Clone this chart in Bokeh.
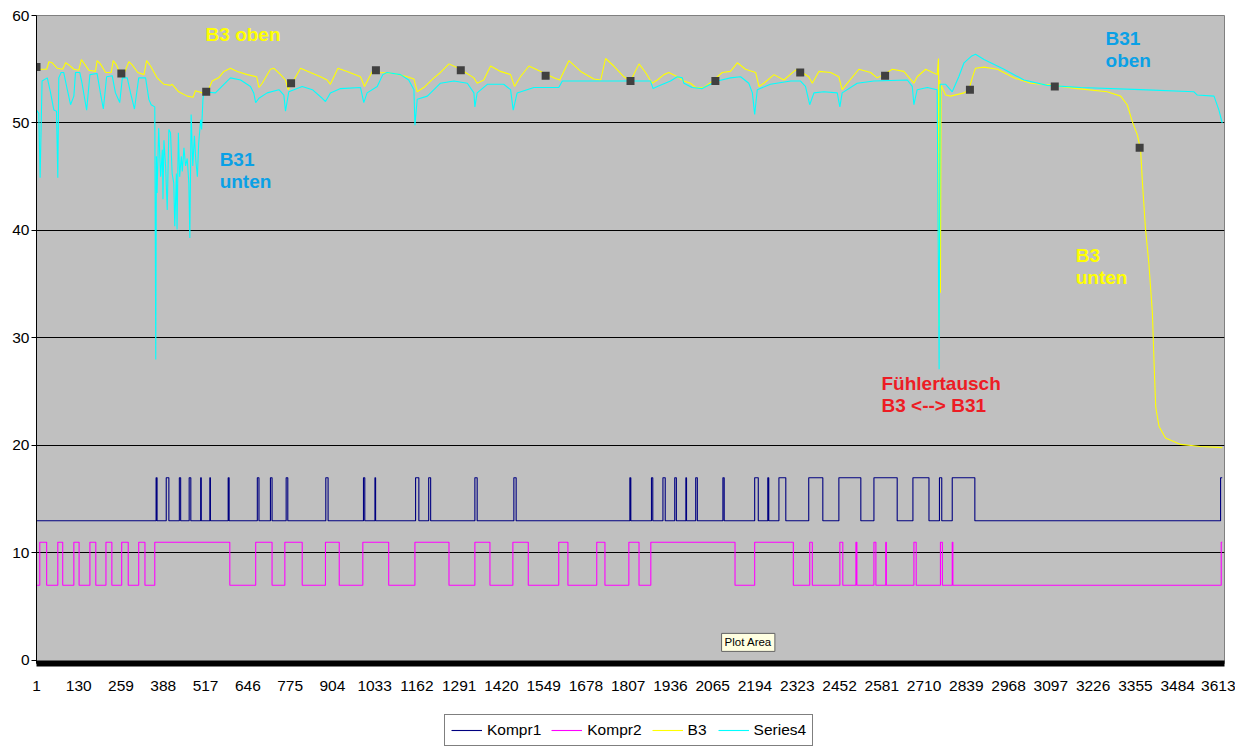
from bokeh.plotting import figure
from bokeh.layouts import column
from bokeh.models import Range1d, FixedTicker, Legend, LegendItem, Label
from bokeh.embed import file_html
from bokeh.resources import INLINE

# ---------------- data ----------------
x_ticks = [1, 130, 259, 388, 517, 646, 775, 904, 1033, 1162, 1291, 1420, 1549, 1678,
           1807, 1936, 2065, 2194, 2323, 2452, 2581, 2710, 2839, 2968, 3097, 3226,
           3355, 3484, 3613]
y_ticks = [0, 10, 20, 30, 40, 50, 60]
last_index = 3620

# Kompr1: 13 = off, 17 = on ; switch-on / switch-off sample numbers
kompr1_low, kompr1_high = 13, 17
kompr1_on = [366, 397, 437, 467, 502, 530, 586, 675, 715, 763, 884, 999, 1034, 1158,
             1198, 1339, 1458, 1812, 1878, 1913, 1949, 1983, 2013, 2096, 2193, 2233,
             2267, 2358, 2450, 2557, 2676, 2757, 2796, 3615]
kompr1_off = [369, 405, 441, 472, 504, 532, 589, 680, 720, 768, 891, 1003, 1036, 1168,
              1204, 1346, 1465, 1815, 1882, 1920, 1954, 1985, 2018, 2100, 2204, 2236,
              2288, 2401, 2517, 2628, 2725, 2764, 2865, 3620]

# Kompr2: 7 = off, 11 = on
kompr2_low, kompr2_high = 7, 11
kompr2_on = [11, 66, 115, 164, 213, 261, 313, 362, 670, 759, 883, 997, 1156, 1339,
             1455, 1595, 1711, 1809, 1876, 2193, 2361, 2453, 2502, 2557, 2593, 2679,
             2760, 2796, 3617]
kompr2_off = [32, 81, 131, 182, 231, 281, 332, 591, 720, 812, 925, 1076, 1260, 1385,
              1502, 1623, 1736, 1840, 2133, 2311, 2369, 2462, 2505, 2563, 2595, 2686,
              2766, 2798, 3620]

b3_idx = [1, 32, 39, 49, 64, 81, 90, 100, 115, 130,
          138, 145, 161, 181, 186, 196, 212, 229, 235, 245,
          252, 267, 283, 293, 310, 329, 337, 349, 369, 390,
          410, 415, 435, 461, 479, 486, 507, 522, 537, 557,
          573, 593, 614, 644, 673, 680, 690, 715, 725, 746,
          761, 769, 781, 807, 837, 868, 888, 898, 921, 949,
          990, 1002, 1026, 1051, 1092, 1133, 1153, 1163, 1183, 1214,
          1234, 1260, 1295, 1336, 1346, 1366, 1387, 1417, 1448, 1460,
          1478, 1504, 1540, 1580, 1598, 1626, 1662, 1702, 1723, 1738,
          1763, 1794, 1814, 1840, 1860, 1880, 1896, 1916, 1931, 1957,
          1977, 1997, 2013, 2038, 2064, 2094, 2119, 2140, 2165, 2196,
          2206, 2221, 2252, 2282, 2313, 2323, 2358, 2369, 2389, 2425,
          2450, 2460, 2481, 2511, 2547, 2567, 2587, 2613, 2648, 2679,
          2689, 2715, 2750, 2754, 2756, 2758, 2760, 2762, 2776, 2791,
          2832, 2847, 2857, 2867, 2893, 2934, 2984, 3035, 3106, 3178,
          3269, 3310, 3330, 3346, 3361, 3371, 3376, 3386, 3396, 3407,
          3412, 3417, 3427, 3447, 3493, 3554, 3620]
b3_val = [55.0, 55.0, 55.7, 55.6, 55.1, 55.0, 55.6, 55.4, 55.0, 54.9,
          55.9, 55.6, 54.9, 54.8, 55.8, 55.5, 54.7, 54.7, 55.8, 55.4,
          54.9, 54.5, 55.7, 55.4, 54.7, 54.5, 55.8, 55.3, 54.2, 53.6,
          53.5, 53.6, 52.9, 52.5, 52.4, 53.0, 52.8, 52.8, 53.9, 54.2,
          54.8, 55.1, 54.8, 54.5, 54.3, 53.3, 53.7, 55.0, 55.1, 54.5,
          54.0, 53.1, 53.7, 55.1, 54.7, 54.3, 54.0, 53.6, 55.1, 54.8,
          54.3, 53.4, 54.8, 54.7, 54.6, 54.3, 54.1, 52.9, 53.3, 54.2,
          54.7, 55.5, 55.0, 54.2, 53.7, 54.0, 55.3, 54.8, 54.5, 53.4,
          54.3, 55.3, 54.8, 54.2, 54.0, 55.8, 54.8, 54.1, 54.0, 56.0,
          55.3, 54.3, 53.9, 55.5, 54.7, 53.7, 54.0, 54.5, 54.7, 54.3,
          53.9, 53.7, 53.3, 53.3, 53.9, 54.7, 54.8, 55.6, 55.0, 54.7,
          53.4, 53.7, 54.5, 54.0, 54.8, 55.0, 54.3, 53.7, 54.8, 54.7,
          54.3, 53.1, 53.9, 55.0, 54.7, 54.2, 54.5, 55.0, 54.8, 53.7,
          54.3, 55.0, 54.5, 56.0, 31.1, 54.0, 34.2, 53.5, 52.6, 52.5,
          52.8, 53.1, 54.2, 55.1, 55.2, 55.0, 54.2, 53.7, 53.5, 53.2,
          52.9, 52.5, 51.7, 50.1, 48.9, 47.5, 44.7, 40.1, 37.0, 32.3,
          27.7, 23.6, 21.8, 20.7, 20.1, 19.9, 19.8]

s4_idx = [1, 8, 12, 18, 34, 44, 54, 62, 66, 69,
          76, 84, 95, 105, 115, 120, 133, 140, 154, 164,
          186, 196, 205, 215, 232, 242, 255, 263, 278, 288,
          300, 313, 334, 344, 351, 362, 365, 367, 369, 374,
          380, 385, 387, 390, 395, 400, 405, 410, 415, 420,
          423, 428, 430, 434, 438, 443, 446, 451, 456, 461,
          466, 469, 473, 478, 483, 487, 492, 496, 502, 505,
          509, 512, 547, 573, 593, 624, 654, 664, 670, 680,
          705, 741, 756, 761, 771, 812, 843, 873, 883, 898,
          929, 990, 1000, 1010, 1041, 1058, 1071, 1112, 1137, 1153,
          1156, 1163, 1194, 1234, 1275, 1316, 1336, 1339, 1346, 1377,
          1427, 1448, 1456, 1468, 1519, 1595, 1606, 1875, 1883, 1896,
          1936, 1957, 1972, 1977, 2002, 2033, 2058, 2079, 2119, 2150,
          2175, 2186, 2193, 2201, 2241, 2303, 2333, 2348, 2361, 2374,
          2404, 2445, 2453, 2460, 2506, 2557, 2659, 2674, 2679, 2689,
          2720, 2750, 2756, 2759, 2776, 2796, 2816, 2832, 2854, 2867,
          2893, 2954, 3015, 3086, 3188, 3371, 3534, 3544, 3595, 3610,
          3620]
s4_val = [51.2, 50.9, 44.9, 53.9, 54.2, 52.8, 51.2, 51.1, 44.9, 54.2,
          54.7, 54.7, 53.1, 51.7, 52.5, 54.7, 54.7, 53.7, 51.2, 54.5,
          54.6, 52.8, 51.3, 54.3, 54.4, 52.8, 51.9, 54.2, 54.2, 52.8,
          51.3, 54.2, 54.2, 52.2, 51.7, 51.5, 28.0, 46.9, 43.5, 49.5,
          45.0, 47.5, 42.9, 48.4, 46.0, 41.9, 49.4, 49.1, 45.3, 44.4,
          40.4, 45.3, 40.1, 49.1, 45.0, 46.9, 45.5, 47.7, 46.0, 46.7,
          44.4, 39.3, 50.8, 46.0, 48.8, 46.6, 45.0, 48.1, 50.3, 49.4,
          52.2, 52.9, 52.8, 53.6, 54.2, 54.0, 53.4, 52.8, 51.9, 52.3,
          52.8, 53.1, 52.6, 51.1, 52.9, 53.4, 53.1, 52.3, 52.0, 52.8,
          53.2, 53.3, 51.9, 52.8, 53.4, 54.5, 54.7, 54.5, 54.0, 53.1,
          49.8, 52.2, 52.5, 53.7, 53.9, 53.7, 52.8, 51.5, 52.8, 53.6,
          53.6, 53.1, 51.2, 52.8, 53.3, 53.3, 53.9, 53.9, 53.2, 53.4,
          53.9, 54.3, 54.2, 53.7, 53.3, 53.2, 53.6, 53.9, 54.2, 54.3,
          53.7, 52.8, 50.8, 53.1, 53.6, 53.9, 53.9, 53.4, 51.7, 52.8,
          52.9, 52.8, 51.5, 52.8, 53.7, 53.9, 54.0, 53.4, 51.7, 53.1,
          53.3, 53.1, 27.1, 53.6, 53.6, 52.9, 54.3, 55.6, 56.2, 56.4,
          55.9, 55.0, 54.0, 53.5, 53.3, 53.1, 52.9, 52.6, 52.5, 51.2,
          50.0]

marker_idx = [1, 260, 519, 778, 1037, 1296, 1555, 1814, 2073, 2332, 2591, 2850, 3109, 3368]
marker_val = [55.2, 54.6, 52.9, 53.7, 54.9, 54.9, 54.4, 53.9, 53.9, 54.7, 54.4, 53.1, 53.4, 47.7]

series_names = ["Kompr1", "Kompr2", "B3", "Series4"]
series_colors = ["#000080", "#FF00FF", "#FFFF00", "#00FFFF"]


def step_vertices(on, off, lo, hi, end):
    xs, ys = [1], [lo]
    for a, b in zip(on, off):
        xs += [a, a]
        ys += [lo, hi]
        if b < end:
            xs += [b, b]
            ys += [hi, lo]
        else:
            xs.append(end)
            ys.append(hi)
    if xs[-1] < end:
        xs.append(end)
        ys.append(ys[-1])
    return xs, ys


k1x, k1y = step_vertices(kompr1_on, kompr1_off, kompr1_low, kompr1_high, last_index)
k2x, k2y = step_vertices(kompr2_on, kompr2_off, kompr2_low, kompr2_high, last_index)

FONT = "Liberation Sans"

p = figure(width=1235, height=706, output_backend="svg", toolbar_location=None,
           x_range=Range1d(1, 3627), y_range=Range1d(-0.28, 60),
           min_border_left=36, min_border_right=11, min_border_top=15,
           min_border_bottom=43)
p.border_fill_color = "white"
p.background_fill_color = "#C0C0C0"
p.outline_line_color = "#808080"
p.outline_line_width = 1

# axes
p.xaxis.ticker = FixedTicker(ticks=x_ticks)
p.xaxis.major_label_overrides = {t: str(t) for t in x_ticks}
p.xaxis.axis_line_color = "black"
p.xaxis.axis_line_width = 6
p.xaxis.major_tick_line_color = None
p.xaxis.minor_tick_line_color = None
p.xaxis.major_tick_out = 0
p.xaxis.major_label_standoff = 17
p.xaxis.major_label_text_font = FONT
p.xaxis.major_label_text_font_size = "15.5px"
p.xaxis.major_label_text_color = "black"

p.yaxis.ticker = FixedTicker(ticks=y_ticks)
p.yaxis.axis_line_color = "black"
p.yaxis.major_tick_line_color = "black"
p.yaxis.minor_tick_line_color = None
p.yaxis.major_tick_out = 5
p.yaxis.major_tick_in = 0
p.yaxis.major_label_standoff = 2
p.yaxis.major_label_text_font = FONT
p.yaxis.major_label_text_font_size = "15.5px"
p.yaxis.major_label_text_color = "black"

p.xgrid.grid_line_color = None
p.ygrid.ticker = FixedTicker(ticks=[10, 20, 30, 40, 50])
p.ygrid.grid_line_color = "black"
p.ygrid.grid_line_width = 1

p.line(k1x, k1y, line_color=series_colors[0], line_width=1.1)
p.line(k2x, k2y, line_color=series_colors[1], line_width=1.1)
p.line(b3_idx, b3_val, line_color=series_colors[2], line_width=1.1)
p.line(s4_idx, s4_val, line_color=series_colors[3], line_width=1.1)
p.scatter(marker_idx, marker_val, marker="square", size=8,
          fill_color="#404040", line_color=None)

YEL = "#FFFF00"
BLU = "#0AA0E6"
RED = "#ED1C24"
annotations = [
    ("B3 oben", 517, 59.24, YEL),
    ("B31", 560, 47.6, BLU),
    ("unten", 560, 45.56, BLU),
    ("B31", 3264, 58.87, BLU),
    ("oben", 3264, 56.82, BLU),
    ("B3", 3173, 38.68, YEL),
    ("unten", 3173, 36.63, YEL),
    ("Fühlertausch", 2580, 26.77, RED),
    ("B3 <--> B31", 2580, 24.73, RED),
]
for txt, xx, yy, col in annotations:
    p.add_layout(Label(x=xx, y=yy, text=txt, text_color=col, text_font=FONT,
                       text_font_size="19px", text_font_style="bold",
                       text_baseline="top", text_align="left"))

p.add_layout(Label(x=2092, y=2.52, text="Plot Area", text_font=FONT,
                   text_font_size="11.5px", text_color="black", text_baseline="top",
                   background_fill_color="#FFFFE1", border_line_color="#646464",
                   padding=3))

# ---------------- legend strip ----------------
lg = figure(width=1235, height=41, output_backend="svg", toolbar_location=None,
            x_axis_location=None, y_axis_location=None, min_border=0,
            x_range=Range1d(0, 1), y_range=Range1d(0, 1))
lg.outline_line_color = None
lg.background_fill_color = "white"
lg.border_fill_color = "white"
lg.grid.visible = False
items = []
for name, col in zip(series_names, series_colors):
    # proxy renderers lying outside the visible range, only used for the legend keys
    r = lg.line([-10, -9], [-10, -9], line_color=col, line_width=1.1)
    items.append(LegendItem(label=name, renderers=[r]))

legend = Legend(items=items, orientation="horizontal", location=(408, 1))
legend.label_text_font = FONT
legend.label_text_font_size = "15.5px"
legend.label_text_color = "black"
legend.glyph_width = 31
legend.glyph_height = 18
legend.label_height = 18
legend.label_standoff = 5
legend.spacing = 10
legend.padding = 6
legend.margin = 0
legend.border_line_color = "black"
legend.border_line_width = 1
legend.background_fill_color = "white"
legend.background_fill_alpha = 1
lg.add_layout(legend, "center")

open("out.html", "w").write(file_html(column(p, lg), INLINE))
